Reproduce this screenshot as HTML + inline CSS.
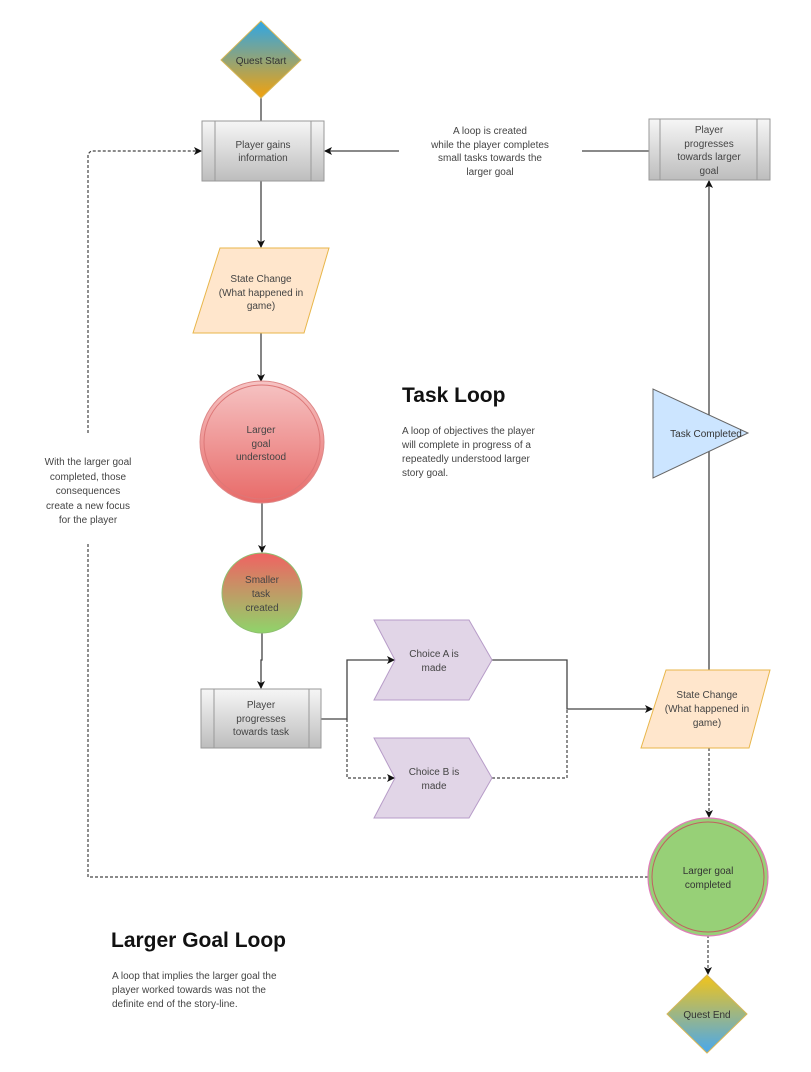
<!DOCTYPE html>
<html><head><meta charset="utf-8"><style>
html,body{margin:0;padding:0;background:#fff;}
svg{display:block;font-family:"Liberation Sans",Arial,sans-serif;}
</style></head><body>
<svg width="811" height="1072" viewBox="0 0 811 1072" xmlns="http://www.w3.org/2000/svg">
<defs>
<linearGradient id="qs" x1="0" y1="0" x2="0" y2="1"><stop offset="0" stop-color="#2ea6e6"/><stop offset="1" stop-color="#f3a20c"/></linearGradient>
<linearGradient id="qe" x1="0" y1="0" x2="0" y2="1"><stop offset="0" stop-color="#f2c41a"/><stop offset="1" stop-color="#48a8ee"/></linearGradient>
<linearGradient id="gb" x1="0" y1="0" x2="0" y2="1"><stop offset="0" stop-color="#f6f6f6"/><stop offset="1" stop-color="#bdbdbd"/></linearGradient>
<linearGradient id="rc" x1="0" y1="0" x2="0" y2="1"><stop offset="0" stop-color="#f6c4c4"/><stop offset="1" stop-color="#e86a68"/></linearGradient>
<linearGradient id="sc" x1="0" y1="0" x2="0" y2="1"><stop offset="0" stop-color="#f06262"/><stop offset="1" stop-color="#8fd46a"/></linearGradient>
<marker id="ar" markerWidth="8" markerHeight="8" refX="7" refY="4" orient="auto" markerUnits="userSpaceOnUse"><path d="M0,0 L8,4 L0,8 L2,4 z" fill="#111"/></marker>
</defs>
<g fill="none" stroke="#444" stroke-width="1.3">
<line x1="261" y1="98" x2="261" y2="121"/>
<line x1="261" y1="181" x2="261" y2="247" marker-end="url(#ar)"/>
<line x1="261" y1="333" x2="261" y2="381" marker-end="url(#ar)"/>
<line x1="262" y1="503" x2="262" y2="552" marker-end="url(#ar)"/>
<polyline points="262,633 262,660 261,660 261,688" marker-end="url(#ar)"/>
<polyline points="321,719 347,719 347,660 394,660" marker-end="url(#ar)"/>
<polyline points="492,660 567,660 567,709 652,709" marker-end="url(#ar)"/>
<line x1="399" y1="151" x2="325" y2="151" marker-end="url(#ar)"/>
<line x1="582" y1="151" x2="649" y2="151"/>
<line x1="709" y1="670" x2="709" y2="181" marker-end="url(#ar)"/>
</g>
<g fill="none" stroke="#444" stroke-width="1.2" stroke-dasharray="3,2">
<polyline points="347,719 347,778 394,778" marker-end="url(#ar)"/>
<polyline points="492,778 567,778 567,709"/>
<line x1="709" y1="748" x2="709" y2="817" marker-end="url(#ar)"/>
<line x1="708" y1="935" x2="708" y2="974" marker-end="url(#ar)"/>
<polyline points="648,877 88,877 88,542"/>
<polyline points="88,433 88,154 91,151 201,151" marker-end="url(#ar)"/>
</g>
<polygon points="261,21 301,60 261,98 221,60" fill="url(#qs)" stroke="#d6b656" stroke-width="1"/>
<text x="261" y="64" font-size="10" text-anchor="middle" fill="#333">Quest Start</text>
<rect x="202" y="121" width="122" height="60" fill="url(#gb)" stroke="#999"/>
<line x1="215" y1="121" x2="215" y2="181" stroke="#999"/><line x1="311" y1="121" x2="311" y2="181" stroke="#999"/>
<text font-size="10" text-anchor="middle" fill="#444"><tspan x="263" y="148">Player gains</tspan><tspan x="263" y="161">information</tspan></text>
<rect x="649" y="119" width="121" height="61" fill="url(#gb)" stroke="#999"/>
<line x1="660" y1="119" x2="660" y2="180" stroke="#999"/><line x1="757" y1="119" x2="757" y2="180" stroke="#999"/>
<text font-size="10" text-anchor="middle" fill="#444"><tspan x="709" y="133">Player</tspan><tspan x="709" y="147">progresses</tspan><tspan x="709" y="160">towards larger</tspan><tspan x="709" y="174">goal</tspan></text>
<text font-size="10" text-anchor="middle" fill="#444"><tspan x="490" y="134">A loop is created</tspan><tspan x="490" y="148">while the player completes</tspan><tspan x="490" y="161">small tasks towards the</tspan><tspan x="490" y="175">larger goal</tspan></text>
<polygon points="220,248 329,248 304,333 193,333" fill="#ffe6cc" stroke="#e8b64a"/>
<text font-size="10" text-anchor="middle" fill="#444"><tspan x="261" y="282">State Change</tspan><tspan x="261" y="296">(What happened in</tspan><tspan x="261" y="309">game)</tspan></text>
<ellipse cx="262" cy="442" rx="62" ry="61" fill="url(#rc)" stroke="#d88" stroke-width="1"/>
<ellipse cx="262" cy="442" rx="58" ry="57" fill="none" stroke="#d77" stroke-width="1"/>
<text font-size="10" text-anchor="middle" fill="#444"><tspan x="261" y="433">Larger</tspan><tspan x="261" y="447">goal</tspan><tspan x="261" y="460">understood</tspan></text>
<ellipse cx="262" cy="593" rx="40" ry="40" fill="url(#sc)" stroke="#8fbf70"/>
<text font-size="10" text-anchor="middle" fill="#444"><tspan x="262" y="583">Smaller</tspan><tspan x="261" y="597">task</tspan><tspan x="262" y="611">created</tspan></text>
<rect x="201" y="689" width="120" height="59" fill="url(#gb)" stroke="#999"/>
<line x1="214" y1="689" x2="214" y2="748" stroke="#999"/><line x1="309" y1="689" x2="309" y2="748" stroke="#999"/>
<text font-size="10" text-anchor="middle" fill="#444"><tspan x="261" y="708">Player</tspan><tspan x="261" y="722">progresses</tspan><tspan x="261" y="735">towards task</tspan></text>
<polygon points="374,620 469,620 492,660 469,700 374,700 395,660" fill="#e1d5e7" stroke="#b79cc8"/>
<text font-size="10" text-anchor="middle" fill="#444"><tspan x="434" y="657">Choice A is</tspan><tspan x="434" y="671">made</tspan></text>
<polygon points="374,738 469,738 492,778 469,818 374,818 395,778" fill="#e1d5e7" stroke="#b79cc8"/>
<text font-size="10" text-anchor="middle" fill="#444"><tspan x="434" y="775">Choice B is</tspan><tspan x="434" y="789">made</tspan></text>
<text x="402" y="402" font-size="21" font-weight="bold" fill="#111">Task Loop</text>
<text font-size="10" fill="#444"><tspan x="402" y="434">A loop of objectives the player</tspan><tspan x="402" y="448">will complete in progress of a</tspan><tspan x="402" y="462">repeatedly understood larger</tspan><tspan x="402" y="476">story goal.</tspan></text>
<polygon points="653,389 653,478 748,433" fill="#cce5ff" stroke="#666"/>
<text x="706" y="437" font-size="10" text-anchor="middle" fill="#333">Task Completed</text>
<polygon points="666,670 770,670 749,748 641,748" fill="#ffe6cc" stroke="#e8b64a"/>
<text font-size="10" text-anchor="middle" fill="#444"><tspan x="707" y="698">State Change</tspan><tspan x="707" y="712">(What happened in</tspan><tspan x="707" y="726">game)</tspan></text>
<ellipse cx="708" cy="877" rx="60" ry="59" fill="#97d077" stroke="#e07ab8" stroke-width="1.2"/>
<ellipse cx="708" cy="877" rx="56" ry="55" fill="none" stroke="#c06060" stroke-width="1"/>
<text font-size="10" text-anchor="middle" fill="#333"><tspan x="708" y="874">Larger goal</tspan><tspan x="708" y="888">completed</tspan></text>
<polygon points="707,975 747,1014 707,1053 667,1014" fill="url(#qe)" stroke="#d6b656"/>
<text x="707" y="1018" font-size="10" text-anchor="middle" fill="#333">Quest End</text>
<text font-size="10" text-anchor="middle" fill="#444"><tspan x="88" y="465">With the larger goal</tspan><tspan x="88" y="480">completed, those</tspan><tspan x="88" y="494">consequences</tspan><tspan x="88" y="509">create a new focus</tspan><tspan x="88" y="523">for the player</tspan></text>
<text x="111" y="947" font-size="21" font-weight="bold" fill="#111">Larger Goal Loop</text>
<text font-size="10" fill="#444"><tspan x="112" y="979">A loop that implies the larger goal the</tspan><tspan x="112" y="993">player worked towards was not the</tspan><tspan x="112" y="1007">definite end of the story-line.</tspan></text>
</svg>
</body></html>
